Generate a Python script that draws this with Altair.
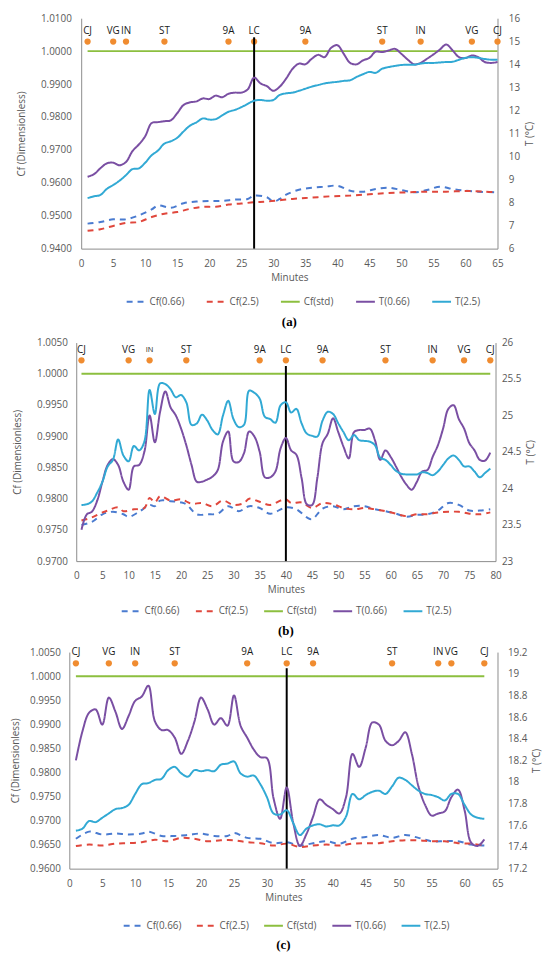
import altair as alt
import pandas as pd

# ---------------- shared categories ----------------
SERIES = ["Cf(0.66)", "Cf(2.5)", "Cf(std)", "T(0.66)", "T(2.5)"]
COLORS = ["#4A7BD0", "#E0473C", "#8CBF3F", "#7A4FA3", "#31A9D4"]
DASHES = [[6, 5], [6, 5], [1, 0], [1, 0], [1, 0]]

# ---------------- panel (a) ----------------
a_t_min = list(range(1, 66))
a_t066 = [9.12, 9.23, 9.49, 9.70, 9.73, 9.62, 9.76, 10.23, 10.52, 10.88, 11.45, 11.49, 11.53, 11.57, 11.88,
          12.24, 12.35, 12.39, 12.52, 12.49, 12.64, 12.57, 12.72, 12.77, 12.77, 12.91, 13.42, 13.17, 13.05,
          12.85, 13.03, 13.38, 13.80, 14.03, 14.0, 14.24, 14.41, 14.31, 14.71, 14.83, 14.45, 14.06, 14.0,
          14.17, 14.28, 14.55, 14.53, 14.60, 14.67, 14.45, 14.2, 14.0, 14.06, 14.24, 14.43, 14.64, 14.86,
          14.60, 14.31, 14.27, 14.38, 14.31, 14.1, 14.06, 14.1]
a_t25 = [8.19, 8.27, 8.33, 8.59, 8.76, 8.95, 9.19, 9.45, 9.48, 9.73, 10.05, 10.26, 10.56, 10.66, 10.81,
         11.09, 11.34, 11.48, 11.65, 11.6, 11.62, 11.78, 11.94, 12.02, 12.14, 12.28, 12.42, 12.45, 12.42,
         12.45, 12.67, 12.74, 12.77, 12.85, 12.94, 13.03, 13.10, 13.17, 13.21, 13.24, 13.28, 13.31, 13.45,
         13.57, 13.67, 13.63, 13.81, 13.88, 13.93, 13.97, 13.98, 13.98, 14.03, 14.06, 14.06, 14.08, 14.10,
         14.11, 14.2, 14.28, 14.31, 14.28, 14.23, 14.2, 14.2]
a_cf066_min = [1, 3, 5, 7, 9, 11, 12, 14, 16, 18, 20, 22, 24, 26, 27, 29, 30, 31, 32, 34, 36, 38, 40, 42, 44,
               46, 48, 50, 52, 54, 56, 58, 60, 62, 65]
a_cf066 = [0.9476, 0.9481, 0.9489, 0.9489, 0.9501, 0.9519, 0.9531, 0.9524, 0.9538, 0.9543, 0.9545, 0.9545,
           0.9549, 0.9551, 0.9561, 0.9556, 0.9543, 0.9551, 0.9564, 0.9579, 0.9585, 0.9588, 0.9591, 0.9576,
           0.9573, 0.9581, 0.9585, 0.9578, 0.9571, 0.9578, 0.9588, 0.9581, 0.9576, 0.9573, 0.9571]
a_cf25_min = [1, 3, 5, 7, 9, 11, 13, 15, 17, 19, 21, 23, 25, 27, 29, 33, 36, 39, 42, 45, 48, 51, 54, 57, 60,
              63, 65]
a_cf25 = [0.9454, 0.9459, 0.9469, 0.9478, 0.9481, 0.9496, 0.9506, 0.9511, 0.9521, 0.9527, 0.9527, 0.9534,
          0.9537, 0.9541, 0.9543, 0.9551, 0.9555, 0.9559, 0.9561, 0.9565, 0.9569, 0.9571, 0.9573, 0.9573,
          0.9575, 0.9573, 0.9571]
a_std_min = [1, 65]
a_std = [1.0, 1.0]
a_loc = ["CJ", "VG", "IN", "ST", "9A", "LC", "9A", "ST", "IN", "VG", "CJ"]
a_loc_min = [1, 5, 7, 13, 23, 27, 35, 47, 53, 61, 65]
a_lc = [27]
a_x_ticks = list(range(0, 66, 5))
a_cf_ticks = [0.94, 0.95, 0.96, 0.97, 0.98, 0.99, 1.0, 1.01]
a_t_ticks = [6, 7, 8, 9, 10, 11, 12, 13, 14, 15, 16]

# ---------------- panel (b) ----------------
b_t_min = list(range(1, 80))
b_t066 = [23.43, 23.64, 23.68, 23.83, 24.09, 24.32, 24.40, 24.32, 24.09, 23.98, 24.30, 24.32, 24.50, 25.0,
          24.63, 25.05, 25.33, 25.11, 25.0, 24.82, 24.59, 24.32, 24.09, 24.09, 24.12, 24.16, 24.25, 24.64,
          24.78, 24.37, 24.36, 24.48, 24.78, 24.71, 24.50, 24.15, 24.15, 24.23, 24.55, 24.69, 24.52, 24.46,
          24.14, 23.78, 23.77, 24.14, 24.62, 24.75, 24.96, 24.77, 24.57, 24.41, 24.77, 24.80, 24.80, 24.82,
          24.66, 24.39, 24.52, 24.43, 24.30, 24.16, 24.05, 23.98, 24.09, 24.23, 24.25, 24.43, 24.59, 24.82,
          25.09, 25.14, 24.95, 24.82, 24.62, 24.52, 24.39, 24.38, 24.49]
b_t25 = [23.77, 23.78, 23.82, 23.94, 24.09, 24.30, 24.39, 24.67, 24.45, 24.37, 24.58, 24.52, 24.64, 25.35,
         25.02, 25.44, 25.43, 25.36, 25.25, 25.28, 25.18, 24.87, 24.89, 25.01, 24.93, 24.80, 24.74, 25.0,
         25.20, 24.95, 24.84, 24.87, 25.34, 25.31, 25.23, 24.98, 24.95, 24.90, 25.14, 25.18, 25.04, 25.09,
         24.89, 24.75, 24.72, 24.71, 24.93, 25.05, 25.02, 24.89, 24.77, 24.66, 24.73, 24.66, 24.65, 24.64,
         24.59, 24.42, 24.39, 24.32, 24.24, 24.20, 24.19, 24.19, 24.19, 24.22, 24.21, 24.18, 24.23, 24.32,
         24.41, 24.45, 24.39, 24.30, 24.30, 24.23, 24.15, 24.21, 24.27]
b_cf066_min = [1, 3, 5, 7, 9, 10, 12, 14, 15, 16, 18, 20, 21, 23, 25, 27, 29, 31, 33, 35, 37, 40, 42, 44, 45,
               47, 49, 51, 53, 55, 57, 59, 61, 63, 65, 67, 69, 71, 73, 75, 77, 79]
b_cf066 = [0.9758, 0.9763, 0.9775, 0.9779, 0.9775, 0.9771, 0.9779, 0.9790, 0.9788, 0.9797, 0.9796, 0.9794,
           0.9791, 0.9775, 0.9775, 0.9776, 0.9788, 0.9780, 0.9788, 0.9785, 0.9776, 0.9786, 0.9783, 0.9770,
           0.9767, 0.9784, 0.9788, 0.9783, 0.9788, 0.9788, 0.9783, 0.9780, 0.9776, 0.9771, 0.9774, 0.9775,
           0.9781, 0.9793, 0.9790, 0.9781, 0.9781, 0.9783]
b_cf25_min = [1, 3, 5, 6, 8, 9, 11, 13, 14, 15, 16, 18, 20, 22, 24, 26, 28, 30, 32, 33, 35, 37, 39, 40, 41,
              43, 45, 47, 49, 51, 53, 55, 57, 59, 61, 63, 65, 67, 69, 71, 73, 75, 77, 79]
b_cf25 = [0.9765, 0.9770, 0.9778, 0.9781, 0.9786, 0.9780, 0.9783, 0.9785, 0.9801, 0.9794, 0.9804, 0.9797,
          0.9799, 0.9792, 0.9793, 0.9788, 0.9797, 0.9790, 0.9793, 0.9800, 0.9795, 0.9790, 0.9797, 0.9799,
          0.9793, 0.9794, 0.9785, 0.9793, 0.9791, 0.9785, 0.9783, 0.9785, 0.9783, 0.9780, 0.9776, 0.9772,
          0.9775, 0.9775, 0.9778, 0.9779, 0.9779, 0.9776, 0.9775, 0.9778]
b_std_min = [1, 79]
b_std = [1.0, 1.0]
b_loc = ["CJ", "VG", "IN", "ST", "9A", "LC", "9A", "ST", "IN", "VG", "CJ"]
b_loc_min = [1, 10, 14, 21, 35, 40, 47, 59, 68, 74, 79]
b_lc = [40]
b_x_ticks = list(range(0, 81, 5))
b_cf_ticks = [0.97, 0.975, 0.98, 0.985, 0.99, 0.995, 1.0, 1.005]
b_t_ticks = [23, 23.5, 24, 24.5, 25, 25.5, 26]

# ---------------- panel (c) ----------------
c_t_min = list(range(1, 64))
c_t066 = [18.20, 18.47, 18.64, 18.67, 18.53, 18.78, 18.65, 18.49, 18.61, 18.75, 18.79, 18.89, 18.56, 18.48,
          18.48, 18.41, 18.26, 18.38, 18.56, 18.78, 18.67, 18.53, 18.59, 18.52, 18.80, 18.52, 18.41, 18.30,
          18.23, 18.22, 17.85, 17.66, 17.95, 17.62, 17.41, 17.52, 17.68, 17.84, 17.79, 17.75, 17.71, 17.86,
          18.26, 18.14, 18.32, 18.55, 18.53, 18.38, 18.34, 18.38, 18.46, 18.26, 17.96, 17.79, 17.69, 17.71,
          17.73, 17.86, 17.93, 17.74, 17.44, 17.41, 17.47]
c_t25 = [17.55, 17.57, 17.64, 17.63, 17.67, 17.71, 17.75, 17.76, 17.79, 17.89, 17.98, 17.99, 18.02, 18.03,
         18.11, 18.14, 18.08, 18.05, 18.11, 18.10, 18.11, 18.10, 18.16, 18.17, 18.19, 18.08, 18.05, 18.06,
         17.98, 17.86, 17.71, 17.70, 17.74, 17.62, 17.51, 17.57, 17.60, 17.61, 17.59, 17.60, 17.60, 17.68,
         17.89, 17.84, 17.88, 17.91, 17.92, 17.89, 17.96, 18.04, 18.02, 17.97, 17.92, 17.89, 17.88, 17.86,
         17.83, 17.89, 17.89, 17.79, 17.70, 17.67, 17.66]
c_cf066_min = [1, 3, 5, 7, 9, 11, 12, 14, 16, 18, 20, 22, 24, 25, 27, 29, 31, 33, 35, 37, 39, 41, 43, 45, 47,
               49, 51, 53, 55, 57, 59, 61, 63]
c_cf066 = [0.9662, 0.9677, 0.9671, 0.9673, 0.9671, 0.9673, 0.9677, 0.9668, 0.9668, 0.9670, 0.9673, 0.9668,
           0.9668, 0.9674, 0.9664, 0.9662, 0.9653, 0.9655, 0.9648, 0.9653, 0.9657, 0.9652, 0.9662, 0.9666,
           0.9670, 0.9664, 0.9670, 0.9664, 0.9657, 0.9657, 0.9657, 0.9650, 0.9648]
c_cf25_min = [1, 3, 5, 7, 9, 11, 13, 15, 17, 19, 21, 23, 25, 27, 29, 31, 33, 35, 37, 39, 41, 43, 45, 47, 49,
              51, 53, 55, 57, 59, 61, 63]
c_cf25 = [0.9647, 0.9650, 0.9648, 0.9652, 0.9653, 0.9655, 0.9660, 0.9657, 0.9664, 0.9662, 0.9657, 0.9659,
          0.9659, 0.9655, 0.9653, 0.9648, 0.9652, 0.9645, 0.9648, 0.9650, 0.9648, 0.9652, 0.9653, 0.9653,
          0.9657, 0.9659, 0.9659, 0.9657, 0.9657, 0.9653, 0.9652, 0.9648]
c_std_min = [1, 63]
c_std = [1.0, 1.0]
c_loc = ["CJ", "VG", "IN", "ST", "9A", "LC", "9A", "ST", "IN", "VG", "CJ"]
c_loc_min = [1, 6, 10, 16, 27, 33, 37, 49, 56, 58, 63]
c_lc = [33]
c_x_ticks = list(range(0, 66, 5))
c_cf_ticks = [0.96, 0.965, 0.97, 0.975, 0.98, 0.985, 0.99, 0.995, 1.0, 1.005]
c_t_ticks = [17.2, 17.4, 17.6, 17.8, 18, 18.2, 18.4, 18.6, 18.8, 19, 19.2]

# ---------------- styling ----------------
FONT = "Open Sans"
TXT = "#595959"
AXC = "#8C8C8C"
ORANGE = "#F08C30"


def long_df(pairs):
    rows = []
    for name, mins, vals in pairs:
        for m, v in zip(mins, vals):
            rows.append({"minute": m, "value": v, "series": name})
    return pd.DataFrame(rows)


def make_panel(cf_df, t_df, loc_df, lc_df, xmax, x_ticks, cf_dom, cf_ticks, t_dom, t_ticks, w, h,
               caption, lpad_l, title_x, lpad_r, leg_x, leg_y, col_pad, dot_level, lc_top, label_dy,
               indent, cap_offset, small_test=None):
    legend = alt.Legend(orient="none", legendX=leg_x, legendY=leg_y, direction="horizontal", title=None,
                        symbolType="stroke", symbolStrokeWidth=2, symbolSize=361, labelFont=FONT,
                        labelFontSize=10, labelColor=TXT, columnPadding=col_pad, labelOffset=3)
    color = alt.Color("series:N", scale=alt.Scale(domain=SERIES, range=COLORS), legend=legend)
    dash = alt.StrokeDash("series:N", scale=alt.Scale(domain=SERIES, range=DASHES), legend=legend)

    x_axis = alt.Axis(values=x_ticks, format="d", title="Minutes", titleFont=FONT, titleFontSize=10,
                      titleFontWeight="normal", titleColor=TXT, labelFont=FONT, labelFontSize=10,
                      labelColor=TXT, labelPadding=10, titlePadding=4, ticks=False, tickSize=0, grid=False,
                      domainColor=AXC, labelFlush=False, labelOverlap=False)
    x_enc = alt.X("minute:Q", scale=alt.Scale(domain=[0, xmax], nice=False, zero=False), axis=x_axis)

    l_axis = alt.Axis(orient="left", values=cf_ticks, format=".4f", title="Cf (Dimensionless)",
                      titleX=title_x, titleY=h / 2, titleAngle=270, titleBaseline="bottom",
                      titleFont=FONT, titleFontSize=10, titleFontWeight="normal", titleColor=TXT,
                      labelFont=FONT, labelFontSize=10, labelColor=TXT, labelPadding=lpad_l,
                      ticks=False, tickSize=0, grid=False, domainColor=AXC,
                      labelFlush=False, labelOverlap=False)
    cf_scale = alt.Scale(domain=cf_dom, nice=False, zero=False)

    r_axis = alt.Axis(orient="right", values=t_ticks, format="~g", title="T (°C)", titleAngle=270,
                      titleBaseline="top", titleFont=FONT, titleFontSize=10, titleFontWeight="normal",
                      titleColor=TXT, labelFont=FONT, labelFontSize=10, labelColor=TXT,
                      labelPadding=lpad_r, titlePadding=5, ticks=False, tickSize=0, grid=False,
                      domainColor=AXC, labelFlush=False, labelOverlap=False)
    t_scale = alt.Scale(domain=t_dom, nice=False, zero=False)

    cf_lines = alt.Chart(cf_df).mark_line(strokeWidth=2, interpolate="catmull-rom").encode(
        x=x_enc, y=alt.Y("value:Q", scale=cf_scale, axis=l_axis), color=color, strokeDash=dash)
    dots = alt.Chart(loc_df).mark_circle(size=40, color=ORANGE, opacity=1).encode(
        x=x_enc, y=alt.YDatum(dot_level, scale=cf_scale, axis=l_axis))
    if small_test:
        size = alt.condition(small_test, alt.value(7.5), alt.value(10))
    else:
        size = alt.value(10)
    labels = alt.Chart(loc_df).mark_text(dy=label_dy, font=FONT, color="#1A1A1A").encode(
        x=x_enc, y=alt.YDatum(dot_level, scale=cf_scale, axis=l_axis), text="loc:N", size=size)
    rule = alt.Chart(lc_df).mark_rule(color="black", strokeWidth=2).encode(
        x=x_enc, y=alt.YDatum(cf_dom[0], scale=cf_scale, axis=l_axis), y2=alt.Y2Datum(lc_top))
    left = alt.layer(cf_lines, dots, labels, rule)

    t_lines = alt.Chart(t_df).mark_line(strokeWidth=2, interpolate="catmull-rom").encode(
        x=x_enc, y=alt.Y("value:Q", scale=t_scale, axis=r_axis), color=color, strokeDash=dash)

    panel = alt.layer(left, t_lines).resolve_scale(y="independent").properties(
        width=w, height=h,
        title=alt.TitleParams(caption, orient="bottom", anchor="middle", font="Liberation Serif",
                              fontSize=13, fontWeight="bold", color="black", offset=cap_offset))
    # an empty, invisible cell to the left sets how far this panel is indented
    spacer = alt.Chart(pd.DataFrame({"z": [0]})).mark_rule(opacity=0).encode(
        x=alt.value(0), y=alt.value(0)).properties(width=indent, height=1)
    return alt.hconcat(spacer, panel, spacing=0).resolve_scale(
        x="independent", y="independent", color="independent", strokeDash="independent")


pa = make_panel(
    long_df([("Cf(0.66)", a_cf066_min, a_cf066), ("Cf(2.5)", a_cf25_min, a_cf25), ("Cf(std)", a_std_min, a_std)]),
    long_df([("T(0.66)", a_t_min, a_t066), ("T(2.5)", a_t_min, a_t25)]),
    pd.DataFrame({"minute": a_loc_min, "loc": a_loc}), pd.DataFrame({"minute": a_lc}),
    65, a_x_ticks, [0.94, 1.01], a_cf_ticks, [6, 16], a_t_ticks, 421, 233, "(a)",
    10, -55, 11, 45, 276, 18, 1.0029, 1.0042, -10.5, 7, 9)

pb = make_panel(
    long_df([("Cf(0.66)", b_cf066_min, b_cf066), ("Cf(2.5)", b_cf25_min, b_cf25), ("Cf(std)", b_std_min, b_std)]),
    long_df([("T(0.66)", b_t_min, b_t066), ("T(2.5)", b_t_min, b_t25)]),
    pd.DataFrame({"minute": b_loc_min, "loc": b_loc}), pd.DataFrame({"minute": b_lc}),
    80, b_x_ticks, [0.97, 1.005], b_cf_ticks, [23, 26], b_t_ticks, 424, 221, "(b)",
    9, -54, 6, 45, 261, 12, 1.00215, 1.00125, -10.5, 3, 9,
    small_test="datum.loc == 'IN' && datum.minute < 40")

pc = make_panel(
    long_df([("Cf(0.66)", c_cf066_min, c_cf066), ("Cf(2.5)", c_cf25_min, c_cf25), ("Cf(std)", c_std_min, c_std)]),
    long_df([("T(0.66)", c_t_min, c_t066), ("T(2.5)", c_t_min, c_t25)]),
    pd.DataFrame({"minute": c_loc_min, "loc": c_loc}), pd.DataFrame({"minute": c_lc}),
    65, c_x_ticks, [0.96, 1.005], c_cf_ticks, [17.2, 19.2], c_t_ticks, 433, 219, "(c)",
    9, -49, 10, 54, 266, 11, 1.00267, 1.00165, -11, 1, 8)

chart = alt.vconcat(pa, pb, pc, spacing=9).resolve_scale(
    x="independent", y="independent", color="independent", strokeDash="independent"
).properties(
    padding={"left": 2, "top": 0, "right": 0, "bottom": 0}
).configure_view(stroke=None)

chart.save("out.html", embed_options={"renderer": "svg", "actions": False})
